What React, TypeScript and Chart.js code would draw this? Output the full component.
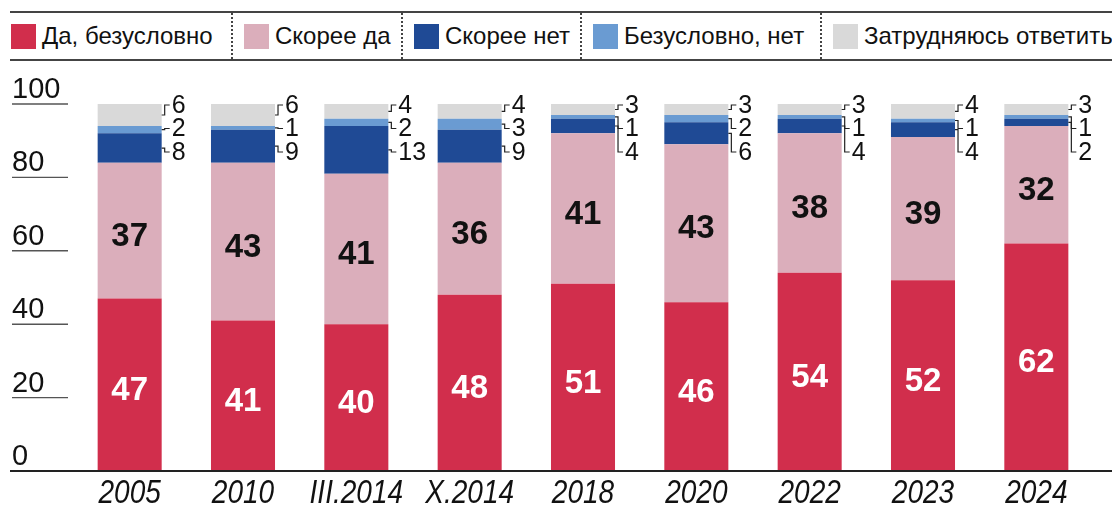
import React, { useEffect, useRef } from "react";
import { Chart, registerables } from "chart.js";
Chart.register(...registerables);

const categories = ["2005", "2010", "III.2014", "X.2014", "2018", "2020", "2022", "2023", "2024"];
const definitelyYes = [47, 41, 40, 48, 51, 46, 54, 52, 62];
const ratherYes = [37, 43, 41, 36, 41, 43, 38, 39, 32];
const ratherNo = [8, 9, 13, 9, 4, 6, 4, 4, 2];
const definitelyNo = [2, 1, 2, 3, 1, 2, 1, 1, 1];
const hardToSay = [6, 6, 4, 4, 3, 3, 3, 4, 3];
const seriesNames = ["Да, безусловно", "Скорее да", "Скорее нет", "Безусловно, нет", "Затрудняюсь ответить"];
const seriesColors = ["#D12E4C", "#DBAEBB", "#1F4A95", "#6A9BD2", "#D9D9D9"];
const yTicks = [0, 20, 40, 60, 80, 100];

const legendBoxX = [11, 244, 414, 593, 833];
const legendSepX = [231, 401, 580, 820];

const FONT = "'Liberation Sans', Arial, sans-serif";

const overlayPlugin = {
  id: "overlay",
  afterDatasetsDraw(chart: any) {
    const ctx = chart.ctx as CanvasRenderingContext2D;
    const xs = chart.scales.x;
    const ys = chart.scales.y;
    ctx.save();

    // y ticks
    yTicks.forEach((v) => {
      const py = ys.getPixelForValue(v);
      ctx.strokeStyle = v === 0 ? "#222" : "#555";
      ctx.lineWidth = v === 0 ? 2 : 1.4;
      ctx.beginPath();
      if (v === 0) {
        ctx.moveTo(10, py);
        ctx.lineTo(1112, py);
      } else {
        ctx.moveTo(12, py);
        ctx.lineTo(68, py);
      }
      ctx.stroke();
      ctx.fillStyle = "#111";
      ctx.font = `29px ${FONT}`;
      ctx.textAlign = "left";
      ctx.textBaseline = "alphabetic";
      ctx.fillText(String(v), 12, py - 6);
    });

    const metas = [0, 1, 2, 3, 4].map((d) => chart.getDatasetMeta(d));
    categories.forEach((cat, i) => {
      const els = metas.map((m: any) => m.data[i].getProps(["x", "y", "base", "width"], true));
      // big labels
      [0, 1].forEach((d) => {
        const e = els[d];
        const cy = (e.y + e.base) / 2 + 6;
        ctx.fillStyle = d === 0 ? "#FFFFFF" : "#111111";
        ctx.font = `bold 33px ${FONT}`;
        ctx.textAlign = "center";
        ctx.textBaseline = "middle";
        const val = chart.data.datasets[d].data[i];
        ctx.fillText(String(val), e.x, cy);
      });
      // small labels
      const topY = els[4].y;
      const barRight = els[4].x + els[4].width / 2;
      [4, 3, 2].forEach((d, k) => {
        const e = els[d];
        const segY = (e.y + e.base) / 2;
        const ly = topY + 1 + k * 23.5;
        ctx.strokeStyle = "#222";
        ctx.lineWidth = 1.2;
        ctx.beginPath();
        ctx.moveTo(barRight, segY);
        ctx.lineTo(barRight + 3, segY);
        ctx.lineTo(barRight + 3, ly);
        ctx.lineTo(barRight + 8, ly);
        ctx.stroke();
        ctx.fillStyle = "#111";
        ctx.font = `25px ${FONT}`;
        ctx.textAlign = "left";
        ctx.textBaseline = "middle";
        ctx.fillText(String(chart.data.datasets[d].data[i]), barRight + 10, ly + 1);
      });
      // x labels
      const px = xs.getPixelForValue(i);
      ctx.save();
      ctx.translate(px, 434);
      ctx.scale(0.85, 1);
      ctx.fillStyle = "#111";
      ctx.font = `italic 33px ${FONT}`;
      ctx.textAlign = "center";
      ctx.textBaseline = "middle";
      ctx.fillText(cat, 0, 0);
      ctx.restore();
    });
    ctx.restore();
  },
};

export default function App() {
  const ref = useRef<HTMLCanvasElement>(null);
  useEffect(() => {
    if (!ref.current) return;
    const series = [definitelyYes, ratherYes, ratherNo, definitelyNo, hardToSay];
    const chart = new Chart(ref.current, {
      type: "bar",
      data: {
        labels: categories,
        datasets: series.map((s, idx) => ({
          label: seriesNames[idx],
          data: s,
          backgroundColor: seriesColors[idx],
          borderWidth: 0,
          barPercentage: 0.565,
          categoryPercentage: 1,
        })),
      },
      options: {
        responsive: false,
        maintainAspectRatio: false,
        animation: false,
        devicePixelRatio: 1,
        layout: { padding: { left: 73, right: 19, top: 44, bottom: 37 } },
        plugins: { legend: { display: false }, tooltip: { enabled: false } },
        scales: {
          x: { stacked: true, display: false, offset: true },
          y: { stacked: true, display: false, min: 0, max: 100 },
        },
      },
      plugins: [overlayPlugin],
    });
    return () => chart.destroy();
  }, []);

  return (
    <div style={{ position: "fixed", left: 0, top: 0, width: 1112, height: 508, background: "#fff", overflow: "hidden" }}>
      <div
        style={{
          position: "absolute",
          left: 10,
          top: 11,
          width: 1102,
          height: 46,
          borderTop: "2px solid #444",
          borderBottom: "2px solid #444",
          fontFamily: FONT,
          fontSize: 24,
          color: "#111",
          whiteSpace: "nowrap",
        }}
      >
        {legendSepX.map((x, i) => (
          <div key={"s" + i} style={{ position: "absolute", left: x - 10, top: 0, height: 46, borderLeft: "2px dotted #444" }} />
        ))}
        {seriesNames.map((n, i) => (
          <div key={n} style={{ position: "absolute", left: legendBoxX[i] - 10, top: 10, height: 26, display: "flex", alignItems: "center" }}>
            <div style={{ width: 25, height: 25, background: seriesColors[i], marginRight: 6 }} />
            <span>{n}</span>
          </div>
        ))}
      </div>
      <canvas ref={ref} width={1112} height={448} style={{ position: "absolute", left: 0, top: 60, width: 1112, height: 448 }} />
    </div>
  );
}
